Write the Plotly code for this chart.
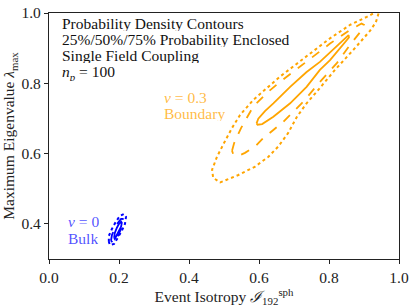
import plotly.graph_objects as go

# Boundary (nu = 0.3) contours: 25%, 50%, 75% enclosed
bnd25_x = [0.593, 0.598, 0.617, 0.641, 0.689, 0.736, 0.774, 0.814, 0.846, 0.856, 0.857, 0.831, 0.803, 0.774, 0.736, 0.689, 0.641, 0.609, 0.596, 0.593]
bnd25_y = [0.686, 0.699, 0.721, 0.743, 0.790, 0.832, 0.861, 0.898, 0.929, 0.937, 0.930, 0.898, 0.866, 0.838, 0.790, 0.743, 0.705, 0.684, 0.682, 0.686]

bnd50_x = [0.523, 0.529, 0.549, 0.583, 0.623, 0.660, 0.697, 0.740, 0.803, 0.860, 0.893, 0.900, 0.894, 0.860, 0.823, 0.774, 0.751, 0.727, 0.698, 0.670, 0.641, 0.612, 0.591, 0.560, 0.540, 0.526, 0.523]
bnd50_y = [0.608, 0.630, 0.673, 0.733, 0.773, 0.804, 0.832, 0.864, 0.913, 0.952, 0.970, 0.966, 0.952, 0.909, 0.858, 0.804, 0.776, 0.748, 0.719, 0.691, 0.667, 0.644, 0.622, 0.602, 0.593, 0.599, 0.608]

bnd75_x = [0.949, 0.927, 0.908, 0.860, 0.803, 0.746, 0.711, 0.660, 0.622, 0.584, 0.546, 0.523, 0.500, 0.480, 0.466, 0.469, 0.489, 0.541, 0.589, 0.627, 0.655, 0.683, 0.708, 0.736, 0.765, 0.817, 0.874, 0.917, 0.934, 0.941, 0.949]
bnd75_y = [1.023, 0.999, 0.989, 0.966, 0.928, 0.885, 0.858, 0.819, 0.786, 0.753, 0.710, 0.673, 0.630, 0.591, 0.554, 0.531, 0.518, 0.539, 0.563, 0.591, 0.620, 0.658, 0.704, 0.743, 0.776, 0.838, 0.900, 0.949, 0.974, 0.994, 1.023]

# Bulk (nu = 0) contours
blk25_x = [0.186, 0.188, 0.194, 0.200, 0.206, 0.208, 0.206, 0.200, 0.194, 0.188, 0.186]
blk25_y = [0.360, 0.374, 0.389, 0.400, 0.406, 0.403, 0.392, 0.380, 0.366, 0.357, 0.360]

blk50_x = [0.177, 0.180, 0.188, 0.197, 0.206, 0.211, 0.214, 0.208, 0.200, 0.191, 0.183, 0.177]
blk50_y = [0.352, 0.369, 0.386, 0.403, 0.414, 0.414, 0.405, 0.389, 0.372, 0.355, 0.346, 0.352]

blk75_x = [0.171, 0.171, 0.180, 0.191, 0.203, 0.214, 0.220, 0.217, 0.208, 0.197, 0.186, 0.174, 0.171]
blk75_y = [0.349, 0.366, 0.386, 0.406, 0.423, 0.428, 0.420, 0.400, 0.380, 0.360, 0.343, 0.340, 0.349]

tick_vals_x = [0.0, 0.2, 0.4, 0.6, 0.8, 1.0]
tick_vals_y = [0.4, 0.6, 0.8, 1.0]

info_lines = ["Probability Density Contours", "25%/50%/75% Probability Enclosed",
              "Single Field Coupling", "<i>n</i><sub><i>p</i></sub> = 100"]
info_y = [0.971, 0.925, 0.881, 0.830]
boundary_lines = ["<i>ν</i> = 0.3", "Boundary"]
boundary_y = [0.762, 0.715]
bulk_lines = ["<i>ν</i> = 0", "Bulk"]
bulk_y = [0.409, 0.361]

ORANGE = "#ffa500"
BLUE = "#0000ff"
FONT = "Liberation Serif, Times New Roman, serif"
FSIZE = 15.5

fig = go.Figure()

def add(x, y, color, dash, width):
    fig.add_trace(go.Scatter(x=x, y=y, mode="lines",
                             line=dict(color=color, dash=dash, width=width),
                             showlegend=False, hoverinfo="skip"))

add(bnd25_x, bnd25_y, ORANGE, "solid", 1.8)
add(bnd50_x, bnd50_y, ORANGE, "dash", 1.8)
add(bnd75_x, bnd75_y, ORANGE, "dot", 2.0)
add(blk25_x, blk25_y, BLUE, "solid", 1.8)
add(blk50_x, blk50_y, BLUE, "dash", 1.8)
add(blk75_x, blk75_y, BLUE, "dot", 2.0)

def label(x, lines, ys, color):
    for t, y in zip(lines, ys):
        fig.add_annotation(x=x, y=y, xref="x", yref="y", text=t, showarrow=False,
                           xanchor="left", yanchor="middle", align="left", height=16,
                           font=dict(family=FONT, size=FSIZE, color=color))

label(0.031, info_lines, info_y, "#111111")
label(0.323, boundary_lines, boundary_y, "rgba(255,165,0,0.75)")
label(0.049, bulk_lines, bulk_y, "rgba(0,0,255,0.7)")

axis_common = dict(showgrid=False, zeroline=False, showline=True, linecolor="#222222",
                   linewidth=1.2, mirror=True, ticks="outside", ticklen=4,
                   tickcolor="#222222", automargin=False, ticklabeloverflow="allow",
                   tickfont=dict(family=FONT, size=FSIZE, color="#222222"))

fig.update_xaxes(range=[0, 1], tickvals=tick_vals_x, ticktext=[f"{v:.1f}" for v in tick_vals_x],
                 title=dict(text="Event Isotropy <i>ℐ</i><sub>192</sub><sup>sph</sup>",
                            font=dict(family=FONT, size=FSIZE, color="#222222"), standoff=2),
                 **axis_common)
fig.update_yaxes(range=[0.3, 1.0], tickvals=tick_vals_y, ticktext=[f"{v:.1f}" for v in tick_vals_y],
                 title=dict(text="Maximum Eigenvalue <i>λ</i><sub>max</sub>",
                            font=dict(family=FONT, size=FSIZE, color="#222222"), standoff=2),
                 **axis_common)

fig.update_layout(width=415, height=308, margin=dict(l=49, r=16, t=13, b=49),
                  plot_bgcolor="white", paper_bgcolor="white")

fig.write_html("out.html", config={"displayModeBar": False},
               post_script="document.body.style.margin='0';document.body.style.padding='0';")
